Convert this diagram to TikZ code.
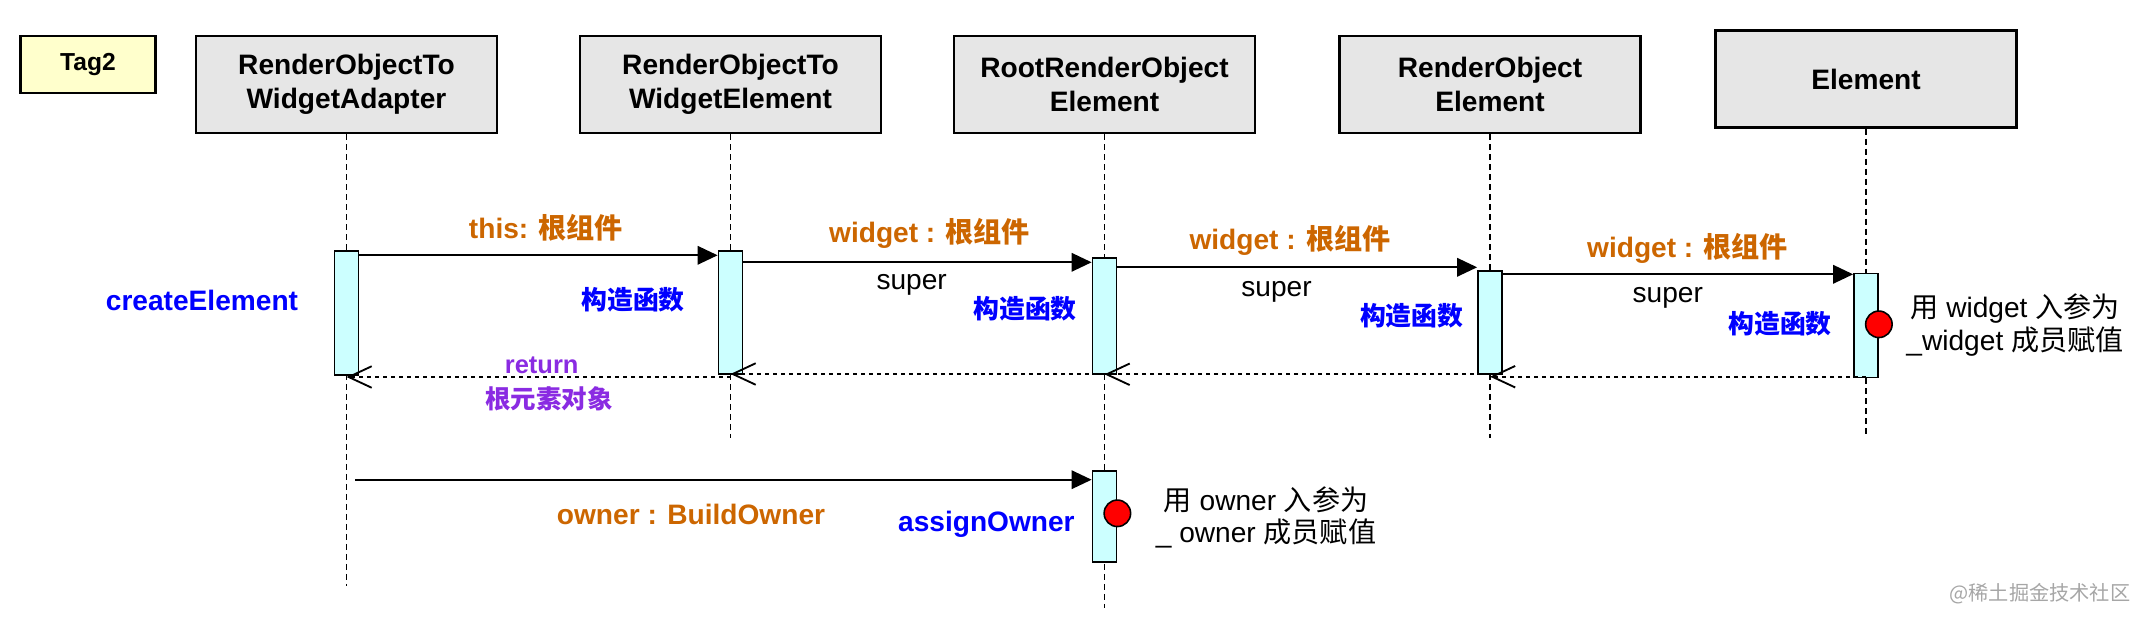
\documentclass[tikz,border=0pt]{standalone}
\usepackage{fontspec}
\setmainfont{Liberation Sans}
\newfontfamily\cjk{Noto Sans CJK SC}
\usepackage{tikz}
\usetikzlibrary{arrows.meta}
\definecolor{boxgray}{HTML}{E6E6E6}
\definecolor{tagyellow}{HTML}{FFFFCC}
\definecolor{actcyan}{HTML}{CCFFFF}
\definecolor{msgorange}{HTML}{CC6600}
\definecolor{fnblue}{HTML}{0000FF}
\definecolor{retpurple}{HTML}{8A2BE2}
\newcommand{\zh}[1]{{\cjk #1}}

\begin{document}
\begin{tikzpicture}[x=0.02cm, y=-0.02cm,
    obj/.style={draw, line width=1.2pt, fill=boxgray, minimum width=6.02cm, minimum height=1.94cm,
      align=center, font=\bfseries\fontsize{16}{19.3}\selectfont},
    tag/.style={draw, line width=1.2pt, fill=tagyellow, minimum width=2.7cm, minimum height=1.14cm,
      font=\bfseries\fontsize{14}{17}\selectfont},
    life/.style={line width=0.9pt, dash pattern=on 0.12cm off 0.08cm},
    act/.style={draw, line width=1pt, fill=actcyan, minimum width=0.48cm, inner sep=0pt, anchor=north},
    msg/.style={line width=1.05pt, -{Triangle[length=0.4cm, width=0.37cm]}},
    ret/.style={line width=1.05pt, dash pattern=on 0.08cm off 0.08cm, -{Straight Barb[length=0.46cm, width=0.43cm]}},
    dot/.style={circle, draw, line width=0.9pt, fill=red, minimum size=0.53cm, inner sep=0pt},
    lbl/.style={text=msgorange, font=\bfseries\fontsize{16}{19}\selectfont},
    fn/.style={text=fnblue, font=\bfseries\fontsize{16}{19}\selectfont},
    ctor/.style={text=fnblue, font=\bfseries\fontsize{14.7}{17}\selectfont},
    sup/.style={font=\fontsize{16}{19}\selectfont},
    retl/.style={text=retpurple, align=center, font=\bfseries\fontsize{14.5}{17}\selectfont},
    note/.style={align=center, font=\fontsize{16}{18.5}\selectfont},
    wm/.style={text=black!35, font=\fontsize{11.5}{14}\selectfont}]
  \useasboundingbox (0,0) rectangle (2140,622);

  % Objects
  \node[tag] (tag) at (88,64.5) {Tag2};
  \node[obj] (ra) at (346.5,84.5) {RenderObjectTo\\WidgetAdapter};
  \node[obj] (re) at (730.5,84.5) {RenderObjectTo\\WidgetElement};
  \node[obj] (rr) at (1104.5,84.5) {RootRenderObject\\Element};
  \node[obj] (ro) at (1490,84.5) {RenderObject\\Element};
  \node[obj] (el) at (1866,79) {Element};

  % Lifelines
  \draw[life] (ra.south) -- (ra.south |- 0,586);
  \draw[life] (re.south) -- (re.south |- 0,437.7);
  \draw[life] (rr.south) -- (rr.south |- 0,608);
  \draw[life] (ro.south) -- (ro.south |- 0,437.7);
  \draw[life] (el.south) -- (el.south |- 0,436);

  % Activations
  \node[act, minimum height=2.49cm] (a1) at (ra |- 0,250) {};
  \node[act, minimum height=2.46cm] (a2) at (re |- 0,250) {};
  \node[act, minimum height=2.31cm] (a3) at (rr |- 0,257.3) {};
  \node[act, minimum height=2.07cm] (a4) at (ro |- 0,270) {};
  \node[act, minimum height=2.08cm] (a5) at (el |- 0,272.7) {};
  \node[act, minimum height=1.82cm] (a6) at (rr |- 0,470) {};

  % Calls
  \draw[msg] (a1.east |- 0,255.3) -- (a2.west |- 0,255.3);
  \draw[msg] (a2.east |- 0,262.3) -- (a3.west |- 0,262.3);
  \draw[msg] (a3.east |- 0,267.3) -- (a4.west |- 0,267.3);
  \draw[msg] (a4.east |- 0,274.3) -- (a5.west |- 0,274.3);
  \coordinate (o1) at (355,479.7);
  \draw[msg] (o1) -- (o1 -| a6.west);

  % Returns
  \draw[ret] (a2.south |- 0,377) -- (a1.south |- 0,377);
  \draw[ret] (a3.south |- 0,374) -- (a2.south |- 0,374);
  \draw[ret] (a4.south |- 0,374.3) -- (a3.south |- 0,374.3);
  \draw[ret] (a5.south |- 0,376.7) -- (a4.south |- 0,376.7);

  \node[dot] (d1) at (a5.east |- 0,324.3) {};
  \node[dot] (d2) at (a6.east |- 0,513.3) {};

  % Labels
  \node[lbl] (m1) at (546,228) {this: \zh{根组件}};
  \node[lbl] (m2) at (929.6,233.3) {widget : \zh{根组件}};
  \node[lbl] (m3) at (1290,240) {widget : \zh{根组件}};
  \node[lbl] (m4) at (1687.6,248.3) {widget : \zh{根组件}};
  \node[lbl] (m5) at (691,514.3) {owner : BuildOwner};
  \node[sup] (s1) at (911.7,285) {super};
  \node[sup] (s2) at (1276.5,291.7) {super};
  \node[sup] (s3) at (1667.8,298.3) {super};
  \node[fn] (f1) at (202,300) {createElement};
  \node[fn] (f2) at (986.4,524) {assignOwner};
  \node[ctor] (c1) at (633,300) {\zh{构造函数}};
  \node[ctor] (c2) at (1025,308.3) {\zh{构造函数}};
  \node[ctor] (c3) at (1411.7,316) {\zh{构造函数}};
  \node[ctor] (c4) at (1780,323.3) {\zh{构造函数}};
  \node[retl] (r1) at (541.7,365) {return};
  \node[retl] (r2) at (549,399.3) {\zh{根元素对象}};
  \node[note] (n1) at (2015,325) {\zh{用} widget \zh{入参为}\\\_widget \zh{成员赋值}};
  \node[note] (n2) at (1266,517.5) {\zh{用} owner \zh{入参为}\\\_ owner \zh{成员赋值}};
  \node[wm] (wm) at (2040,594) {\zh{@稀土掘金技术社区}};
\end{tikzpicture}
\end{document}
